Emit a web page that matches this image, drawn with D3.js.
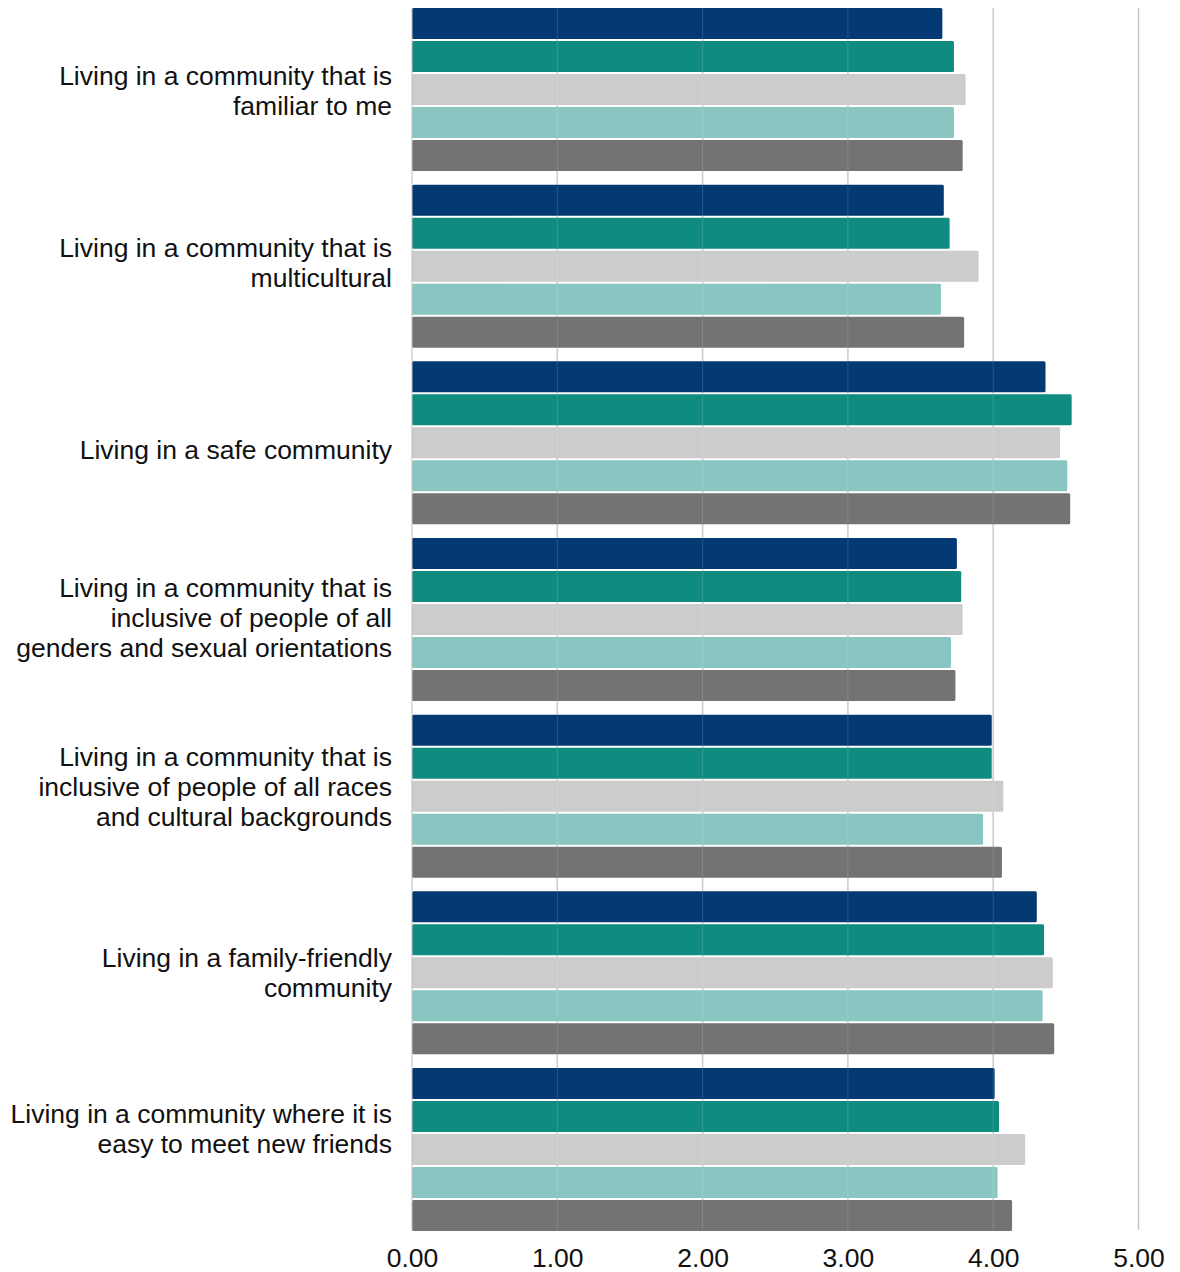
<!DOCTYPE html>
<html>
<head>
<meta charset="utf-8">
<script src="https://cdn.jsdelivr.net/npm/d3@7"></script>
<style>
  html, body { margin: 0; padding: 0; background: #fff; }
  svg { display: block; }
  text { font-family: "Liberation Sans", Arial, Helvetica, sans-serif; fill: #111; }
</style>
</head>
<body>
<svg id="chart" width="1180" height="1272"></svg>
<script>
// Category labels, already split into the lines they are drawn on
const categoryLines = [
  ["Living in a community that is", "familiar to me"],
  ["Living in a community that is", "multicultural"],
  ["Living in a safe community"],
  ["Living in a community that is", "inclusive of people of all", "genders and sexual orientations"],
  ["Living in a community that is", "inclusive of people of all races", "and cultural backgrounds"],
  ["Living in a family-friendly", "community"],
  ["Living in a community where it is", "easy to meet new friends"]
];

const seriesNames = ["Group A", "Group B", "Group C", "Group D", "Group E"];
const seriesColors = ["#033a73", "#0f8b80", "#cccccc", "#89c6c2", "#737373"];

// Mean ratings, one array per series, in category order
const seriesA = [3.65, 3.66, 4.36, 3.75, 3.99, 4.30, 4.01];
const seriesB = [3.73, 3.70, 4.54, 3.78, 3.99, 4.35, 4.04];
const seriesC = [3.81, 3.90, 4.46, 3.79, 4.07, 4.41, 4.22];
const seriesD = [3.73, 3.64, 4.51, 3.71, 3.93, 4.34, 4.03];
const seriesE = [3.79, 3.80, 4.53, 3.74, 4.06, 4.42, 4.13];
const seriesValues = [seriesA, seriesB, seriesC, seriesD, seriesE];

const xTicks = [0, 1, 2, 3, 4, 5];

(function draw() {
  const svg = d3.select("#chart");
  const mLeft = 412, mRight = 1138.5, mTop = 8, mBottom = 1231;
  const fontSize = 26.5, lineHeight = 30;
  // vertical nudge of each label block from its band centre
  const labelNudge = [1.5, -4, 7, -1.5, -10, 0, -20.5];

  const x = d3.scaleLinear().domain([0, 5]).range([mLeft, mRight]);
  const y0 = d3.scaleBand()
    .domain(d3.range(categoryLines.length))
    .range([mTop, mBottom])
    .paddingInner(0.0775)
    .paddingOuter(0);
  const y1 = d3.scaleBand()
    .domain(d3.range(seriesNames.length))
    .range([0, y0.bandwidth()])
    .paddingInner(0.06)
    .paddingOuter(0);

  // Vertical gridlines behind the bars
  svg.append("g")
    .selectAll("line")
    .data(xTicks.filter(d => d > 0))
    .join("line")
    .attr("x1", d => x(d)).attr("x2", d => x(d))
    .attr("y1", mTop).attr("y2", mBottom - 1)
    .attr("stroke", "#c6c6c6")
    .attr("stroke-width", 1.5);

  // Bars
  const groups = svg.append("g")
    .selectAll("g")
    .data(categoryLines.map((_, i) => i))
    .join("g")
    .attr("transform", i => `translate(0,${y0(i)})`);

  groups.selectAll("rect")
    .data(i => seriesValues.map((vals, s) => ({ s, v: vals[i] })))
    .join("rect")
    .attr("x", x(0))
    .attr("y", d => y1(d.s))
    .attr("width", d => x(d.v) - x(0))
    .attr("height", y1.bandwidth())
    .attr("rx", 1.5)
    .attr("fill", d => seriesColors[d.s]);

  // Faint gridline traces across the bars
  svg.append("g")
    .selectAll("line")
    .data(xTicks.filter(d => d > 0 && d < 5))
    .join("line")
    .attr("x1", d => x(d)).attr("x2", d => x(d))
    .attr("y1", mTop).attr("y2", mBottom - 1)
    .attr("stroke", "#ffffff")
    .attr("stroke-opacity", 0.15)
    .attr("stroke-width", 1);

  // Category axis line
  svg.append("line")
    .attr("x1", mLeft).attr("x2", mLeft)
    .attr("y1", mTop).attr("y2", mBottom - 1)
    .attr("stroke", "#bdbdbd")
    .attr("stroke-width", 1);

  // Category labels (baseline placed so cap centres sit on the target line)
  const capMid = fontSize * 0.716 / 2;
  const labelG = svg.append("g");
  categoryLines.forEach((lines, i) => {
    const cy = y0(i) + y0.bandwidth() / 2 + labelNudge[i];
    const t = labelG.append("text")
      .attr("text-anchor", "end")
      .attr("font-size", fontSize);
    lines.forEach((ln, k) => {
      t.append("tspan")
        .attr("x", 392)
        .attr("y", cy + (k - (lines.length - 1) / 2) * lineHeight + capMid)
        .text(ln);
    });
  });

  // Value axis
  const xAxis = d3.axisBottom(x)
    .tickValues(xTicks)
    .tickFormat(d3.format(".2f"))
    .tickSize(0)
    .tickPadding(0);
  const ax = svg.append("g")
    .attr("transform", `translate(0,${mBottom})`)
    .call(xAxis);
  ax.select(".domain").remove();
  ax.selectAll("text")
    .attr("font-size", fontSize)
    .attr("font-family", "Liberation Sans, Arial, sans-serif")
    .attr("fill", "#111")
    .attr("dy", null)
    .attr("y", 36);
})();
</script>
</body>
</html>
